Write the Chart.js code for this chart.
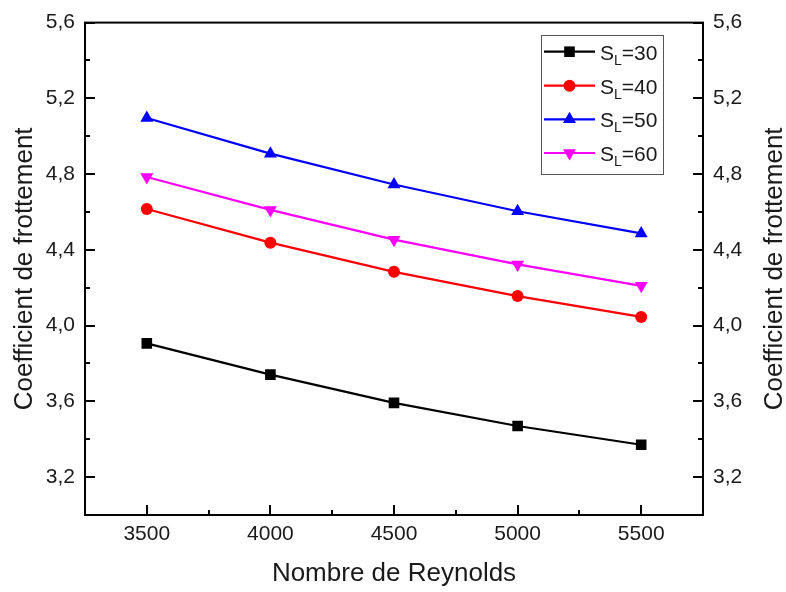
<!DOCTYPE html>
<html>
<head>
<meta charset="utf-8">
<script src="https://cdn.jsdelivr.net/npm/chart.js@4.4.1/dist/chart.umd.min.js"></script>
<style>
  html, body { margin: 0; padding: 0; background: #ffffff; }
  #wrap { width: 786px; height: 592px; }
</style>
</head>
<body>
<div id="wrap"><canvas id="chart" width="786" height="592"></canvas></div>
<script>
// Reynolds numbers on the x axis
const reynolds = [3500, 4000, 4500, 5000, 5500];

// Friction coefficient for each spacing S_L
const sl30 = [3.906, 3.741, 3.592, 3.470, 3.371];
const sl40 = [4.616, 4.438, 4.284, 4.156, 4.046];
const sl50 = [5.096, 4.908, 4.745, 4.604, 4.487];
const sl60 = [4.785, 4.611, 4.454, 4.323, 4.210];

// Series names (S with subscript L)
const seriesLabels = ['30', '40', '50', '60'];

// Axis ticks
const xTicks = [3500, 4000, 4500, 5000, 5500];
const xMinorTicks = [3750, 4250, 4750, 5250];
const yTicks = [3.2, 3.6, 4.0, 4.4, 4.8, 5.2, 5.6];
const yMinorTicks = [3.4, 3.8, 4.2, 4.6, 5.0, 5.4];

const FONT = "'Liberation Sans', Arial, sans-serif";
const TEXT = '#1a1a1a';

const toPoints = ys => reynolds.map((x, i) => ({ x: x, y: ys[i] }));

const styles = [
  { color: '#000000', pointStyle: 'rect', radius: 7.5, rotation: 0 },
  { color: '#ff0000', pointStyle: 'circle', radius: 6, rotation: 0 },
  { color: '#0000ff', pointStyle: 'triangle', radius: 7.5, rotation: 0 },
  { color: '#ff00ff', pointStyle: 'triangle', radius: 7.5, rotation: 180 }
];

const seriesData = [sl30, sl40, sl50, sl60];

const datasets = seriesData.map((ys, i) => ({
  label: 'S_L=' + seriesLabels[i],
  data: toPoints(ys),
  borderColor: styles[i].color,
  backgroundColor: styles[i].color,
  borderWidth: 2.2,
  pointStyle: styles[i].pointStyle,
  pointRadius: styles[i].radius,
  pointRotation: styles[i].rotation,
  pointBorderWidth: 0,
  pointBackgroundColor: styles[i].color,
  tension: 0,
  yAxisID: 'y'
}));

const decimalComma = v => Number(v).toFixed(1).replace('.', ',');

// Frame, inward ticks, right-side title and legend
const framePlugin = {
  id: 'frame',
  afterDraw(chart) {
    const { ctx, chartArea: a, scales } = chart;
    const xs = scales.x, ys = scales.y;
    ctx.save();
    ctx.strokeStyle = '#000';
    ctx.lineWidth = 2;
    ctx.lineCap = 'butt';
    ctx.strokeRect(a.left, a.top, a.right - a.left, a.bottom - a.top);

    ctx.beginPath();
    xTicks.forEach(v => {
      const px = Math.round(xs.getPixelForValue(v));
      ctx.moveTo(px, a.bottom); ctx.lineTo(px, a.bottom - 10);
    });
    xMinorTicks.forEach(v => {
      const px = Math.round(xs.getPixelForValue(v));
      ctx.moveTo(px, a.bottom); ctx.lineTo(px, a.bottom - 5);
    });
    yTicks.forEach(v => {
      const py = Math.round(ys.getPixelForValue(v));
      ctx.moveTo(a.left, py); ctx.lineTo(a.left + 10, py);
      ctx.moveTo(a.right, py); ctx.lineTo(a.right - 10, py);
    });
    yMinorTicks.forEach(v => {
      const py = Math.round(ys.getPixelForValue(v));
      ctx.moveTo(a.left, py); ctx.lineTo(a.left + 5, py);
      ctx.moveTo(a.right, py); ctx.lineTo(a.right - 5, py);
    });
    ctx.stroke();

    // right axis title, reading upward like the left one
    ctx.fillStyle = TEXT;
    ctx.font = '26px ' + FONT;
    ctx.textAlign = 'center';
    ctx.textBaseline = 'middle';
    ctx.translate(775, (a.top + a.bottom) / 2);
    ctx.rotate(-Math.PI / 2);
    ctx.fillText('Coefficient de frottement', 0, 0);
    ctx.restore();

    drawLegend(ctx);
  }
};

function drawMarker(ctx, style, x, y) {
  const r = style.radius;
  ctx.beginPath();
  if (style.pointStyle === 'rect') {
    const s = Math.SQRT1_2 * r;
    ctx.rect(x - s, y - s, 2 * s, 2 * s);
  } else if (style.pointStyle === 'circle') {
    ctx.arc(x, y, r, 0, Math.PI * 2);
  } else {
    const dir = style.rotation === 180 ? -1 : 1;
    ctx.moveTo(x, y - dir * r);
    ctx.lineTo(x - r * Math.sqrt(3) / 2, y + dir * r / 2);
    ctx.lineTo(x + r * Math.sqrt(3) / 2, y + dir * r / 2);
    ctx.closePath();
  }
  ctx.fill();
}

function drawLegend(ctx) {
  const box = { x: 541.5, y: 35.5, w: 122, h: 139 };
  const rows = [51.7, 85.7, 119.3, 153];
  ctx.save();
  ctx.fillStyle = '#fff';
  ctx.fillRect(box.x, box.y, box.w, box.h);
  ctx.strokeStyle = '#555';
  ctx.lineWidth = 1;
  ctx.strokeRect(box.x, box.y, box.w, box.h);
  rows.forEach((ry, i) => {
    const st = styles[i];
    ctx.strokeStyle = st.color;
    ctx.fillStyle = st.color;
    ctx.lineWidth = 2.2;
    ctx.beginPath();
    ctx.moveTo(544, ry); ctx.lineTo(595, ry);
    ctx.stroke();
    drawMarker(ctx, st, 569.5, ry);

    ctx.fillStyle = TEXT;
    ctx.textAlign = 'left';
    ctx.textBaseline = 'alphabetic';
    ctx.font = '21px ' + FONT;
    let tx = 600;
    ctx.fillText('S', tx, ry + 8);
    tx += ctx.measureText('S').width;
    ctx.font = '14px ' + FONT;
    ctx.fillText('L', tx, ry + 13);
    tx += ctx.measureText('L').width;
    ctx.font = '21px ' + FONT;
    ctx.fillText('=' + seriesLabels[i], tx, ry + 8);
  });
  ctx.restore();
}

new Chart(document.getElementById('chart'), {
  type: 'line',
  data: { datasets: datasets },
  options: {
    responsive: false,
    devicePixelRatio: 1,
    animation: false,
    layout: { padding: { top: 18, left: 0, right: 0, bottom: 0 } },
    plugins: { legend: { display: false }, tooltip: { enabled: false } },
    scales: {
      x: {
        type: 'linear',
        position: 'bottom',
        min: 3250,
        max: 5750,
        grid: { display: false, drawTicks: false },
        border: { display: false },
        afterBuildTicks: s => { s.ticks = xTicks.map(v => ({ value: v })); },
        afterFit: s => { s.height = 77; },
        ticks: {
          font: { size: 21, family: FONT },
          color: TEXT,
          padding: 7,
          maxRotation: 0,
          callback: v => String(v)
        },
        title: {
          display: true,
          text: 'Nombre de Reynolds',
          font: { size: 26, family: FONT },
          color: TEXT,
          padding: { top: 0, bottom: 3 }
        }
      },
      y: {
        type: 'linear',
        position: 'left',
        min: 3.0,
        max: 5.6,
        grid: { display: false, drawTicks: false },
        border: { display: false },
        afterBuildTicks: s => { s.ticks = yTicks.map(v => ({ value: v })); },
        afterFit: s => { s.width = 85; },
        ticks: {
          font: { size: 21, family: FONT },
          color: TEXT,
          padding: 10,
          callback: decimalComma
        },
        title: {
          display: true,
          text: 'Coefficient de frottement',
          font: { size: 26, family: FONT },
          color: TEXT,
          padding: { top: 9, bottom: 0 }
        }
      },
      y2: {
        type: 'linear',
        position: 'right',
        min: 3.0,
        max: 5.6,
        grid: { display: false, drawTicks: false },
        border: { display: false },
        afterBuildTicks: s => { s.ticks = yTicks.map(v => ({ value: v })); },
        afterFit: s => { s.width = 83; },
        ticks: {
          font: { size: 21, family: FONT },
          color: TEXT,
          padding: 10,
          callback: decimalComma
        }
      }
    }
  },
  plugins: [framePlugin]
});
</script>
</body>
</html>
